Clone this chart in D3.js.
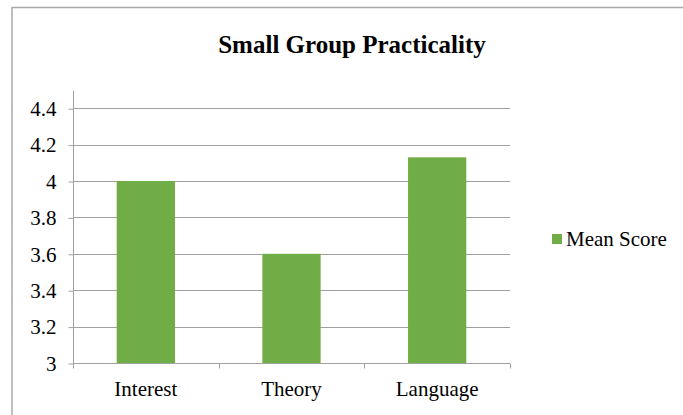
<!DOCTYPE html>
<html><head><meta charset="utf-8">
<script src="https://cdn.jsdelivr.net/npm/d3@7"></script>
<style>body{margin:0;background:#fff}svg{display:block}</style>
</head><body>
<svg id="c" width="683" height="415"></svg>
<script>
const categories = ["Interest", "Theory", "Language"];
const meanScore = [4.0, 3.6, 4.13];
const yTicks = [3, 3.2, 3.4, 3.6, 3.8, 4, 4.2, 4.4];
const seriesName = "Mean Score";
const title = "Small Group Practicality";

const FONT = '"Liberation Serif"';
const svg = d3.select("#c");
// outer chart border
svg.append("path").attr("d", "M12,420 V7.5 H690").attr("fill", "none").attr("stroke", "#a9a9a9").attr("stroke-width", 1.5);

svg.append("text").attr("x", 352).attr("y", 52.5).attr("text-anchor", "middle")
  .style("font-family", FONT).style("font-size", "25px").style("font-weight", "bold").style("fill", "#000").text(title);

const pL = 73, pR = 510, pT = 90, pB = 363;
const x = d3.scaleBand().domain(categories).range([pL, pR]).paddingInner(0.6).paddingOuter(0.3);
const y = d3.scaleLinear().domain([3, 4.5]).range([pB, pT]);

// gridlines
svg.append("g").selectAll("line").data(yTicks.filter(d => d > 3)).join("line")
  .attr("x1", pL).attr("x2", pR).attr("y1", d => Math.round(y(d)) + 0.5).attr("y2", d => Math.round(y(d)) + 0.5)
  .attr("stroke", "#a0a0a0").attr("stroke-width", 1);

// bars
svg.append("g").selectAll("rect").data(categories).join("rect")
  .attr("x", d => x(d)).attr("width", x.bandwidth())
  .attr("y", (d, i) => y(meanScore[i])).attr("height", (d, i) => y(3) - y(meanScore[i]))
  .attr("fill", "#70ad47");

// y axis
const yAxis = d3.axisLeft(y).tickValues(yTicks).tickSize(5).tickPadding(12).tickFormat(d3.format("~g"));
const gy = svg.append("g").attr("transform", `translate(${pL + 0.5},0.5)`).call(yAxis);
gy.select(".domain").attr("stroke", "#a0a0a0").attr("d", `M0,${pT}V${pB}`);
gy.selectAll(".tick line").attr("stroke", "#a0a0a0");
gy.selectAll(".tick text").style("font-size", "21px").style("font-family", FONT).style("fill", "#000");

// x axis
const xEdges = categories.map(c => x(c) - x.step() * x.paddingInner() / 2).concat([pR]);
const gx = svg.append("g").attr("transform", `translate(0,${pB + 0.5})`);
gx.append("line").attr("x1", pL).attr("x2", pR).attr("stroke", "#a0a0a0");
gx.selectAll("line.t").data(xEdges).join("line").attr("class", "t")
  .attr("x1", d => Math.round(d) + 0.5).attr("x2", d => Math.round(d) + 0.5).attr("y1", 0).attr("y2", 5).attr("stroke", "#a0a0a0");
gx.selectAll("text").data(categories).join("text")
  .attr("x", d => x(d) + x.bandwidth() / 2).attr("y", 32).attr("text-anchor", "middle")
  .style("font-size", "21px").style("font-family", FONT).style("fill", "#000").text(d => d);

// legend
const lg = svg.append("g");
lg.append("rect").attr("x", 552).attr("y", 234).attr("width", 10).attr("height", 10).attr("fill", "#70ad47");
lg.append("text").attr("x", 566).attr("y", 246).style("font-size", "21px").style("font-family", FONT).style("fill", "#000").text(seriesName);
</script>
</body></html>
